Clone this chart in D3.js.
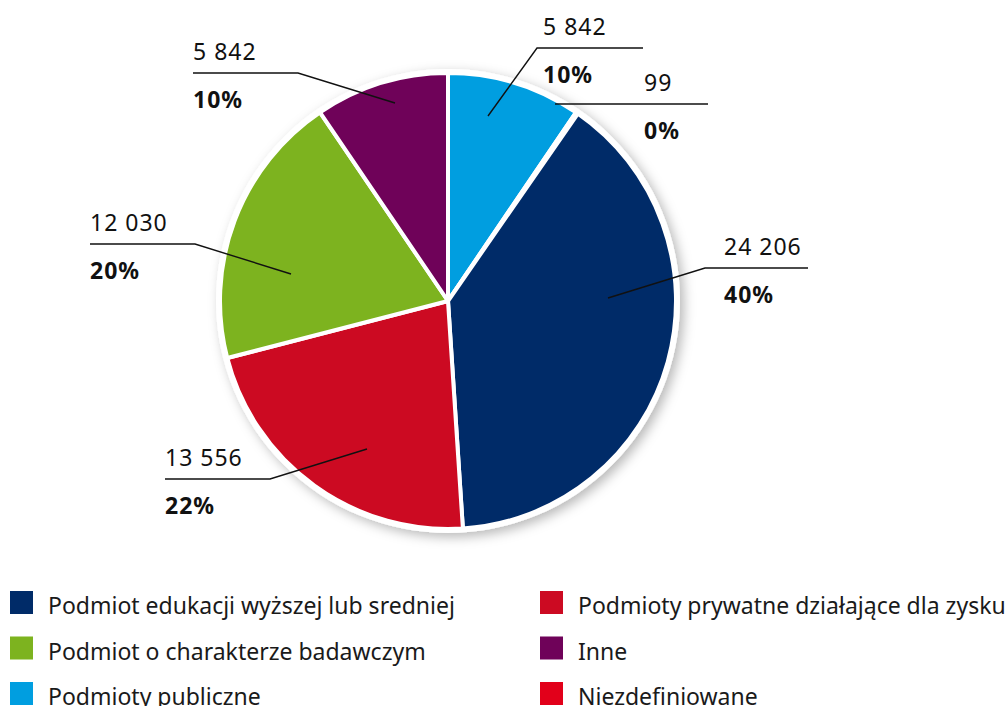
<!DOCTYPE html>
<html><head><meta charset="utf-8">
<script src="https://cdn.jsdelivr.net/npm/d3@7"></script>
<style>
html,body{margin:0;padding:0;background:#fff;}
svg{display:block;font-family:"Noto Sans",sans-serif;}
</style></head>
<body>
<svg id="chart" width="1006" height="706"></svg>
<script>
// ---- data ----
const categories = ["Podmioty publiczne","Niezdefiniowane","Podmiot edukacji wyższej lub sredniej","Podmioty prywatne działające dla zysku","Podmiot o charakterze badawczym","Inne"];
const values = [5842, 99, 24206, 13556, 12030, 5842];
const valueLabels = ["5 842","99","24 206","13 556","12 030","5 842"];
const percentLabels = ["10%","0%","40%","22%","20%","10%"];
const colors = ["#009ee0","#e2001a","#002b68","#cc0a22","#7db31f","#6f0259"];
const legendOrder = [2,4,0,3,5,1];

// ---- layout (positions only) ----
const cx = 448, cy = 301, R = 228;
// inner point (relative to centre), elbow x, line end x, line y, text x
const labelLayout = [
  {ix:40, iy:-185, ex:537, endX:643, ly:48, tx:543},
  {ix:107, iy:-197, ex:555, endX:708, ly:104, tx:644},
  {ix:160, iy:-3, ex:705, endX:808, ly:268, tx:724},
  {ix:-81, iy:148, ex:270, endX:165, ly:479, tx:165},
  {ix:-157, iy:-27, ex:195, endX:90, ly:244, tx:90},
  {ix:-53, iy:-198, ex:298, endX:193, ly:73, tx:193}
];

const svg = d3.select("#chart");
const defs = svg.append("defs");
const f = defs.append("filter").attr("id","sh").attr("x","-20%").attr("y","-20%").attr("width","140%").attr("height","140%");
f.append("feDropShadow").attr("dx",4).attr("dy",4).attr("stdDeviation",6).attr("flood-color","#000").attr("flood-opacity",0.28);

const g = svg.append("g").attr("transform",`translate(${cx},${cy})`);
g.append("circle").attr("r",R+4).attr("fill","#fff").attr("filter","url(#sh)");

const pie = d3.pie().sort(null).value(d=>d);
const arcs = pie(values);
const arc = d3.arc().innerRadius(0).outerRadius(R);
g.selectAll("path.slice").data(arcs).join("path")
  .attr("class","slice")
  .attr("d",arc)
  .attr("fill",(d,i)=>colors[i])
  .attr("stroke","#fff").attr("stroke-width",4).attr("stroke-linejoin","round");

// labels
const lab = svg.append("g");
arcs.forEach((d,i)=>{
  const L = labelLayout[i];
  lab.append("polyline")
    .attr("points",`${cx+L.ix},${cy+L.iy} ${L.ex},${L.ly} ${L.endX},${L.ly}`)
    .attr("fill","none").attr("stroke","#111").attr("stroke-width",1.4);
  lab.append("text").attr("x",L.tx).attr("y",L.ly-13)
    .attr("font-size",23).attr("letter-spacing",1).attr("fill","#111").text(valueLabels[i]);
  lab.append("text").attr("x",L.tx).attr("y",L.ly+35)
    .attr("font-size",23).attr("letter-spacing",1).attr("font-weight","bold").attr("fill","#111").text(percentLabels[i]);
});

// legend
const leg = svg.append("g");
legendOrder.forEach((ci,k)=>{
  const col = Math.floor(k/3), row = k%3;
  const x = col===0 ? 10 : 540;
  const y = 591 + row*45.5;
  leg.append("rect").attr("x",x).attr("y",y).attr("width",23).attr("height",23).attr("fill",colors[ci]);
  leg.append("text").attr("x",x+38).attr("y",y+23).attr("font-size",23).attr("fill","#1a1a1a").text(categories[ci]);
});
</script>
</body></html>
